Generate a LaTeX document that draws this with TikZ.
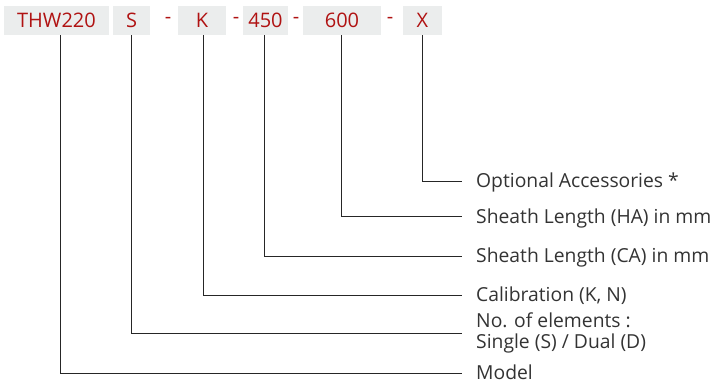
\documentclass[tikz,border=0pt]{standalone}
\usepackage{fontspec}
\setmainfont{Open Sans}
\definecolor{boxgray}{HTML}{EBEDED}
\definecolor{codered}{HTML}{B01212}
\definecolor{labelgray}{HTML}{333333}
\begin{document}
\begin{tikzpicture}[x=1pt,y=1pt,
  codebox/.style={rectangle,fill=boxgray,text=codered,minimum height=29pt,inner sep=0pt,font=\fontsize{20}{20}\selectfont},
  dashtxt/.style={text=codered,inner sep=0pt,font=\fontsize{20}{20}\selectfont},
  lbl/.style={anchor=west,text=labelgray,inner sep=0pt,font=\fontsize{19.3}{21}\selectfont},
  conn/.style={draw=black!85,line width=0.8pt}]
\useasboundingbox (0,0) rectangle (713,383);
\node[codebox,minimum width=105pt] (thw) at (56.5,362.5) {THW220};
\node[codebox,minimum width=37pt] (s) at (131.5,362.5) {S};
\node[dashtxt] (d1) at (168,362.5) {-};
\node[codebox,minimum width=48pt] (k) at (202,362.5) {K};
\node[dashtxt] (d2) at (236,362.5) {-};
\node[codebox,minimum width=45pt] (a) at (265.5,362.5) {450};
\node[dashtxt] (d3) at (296,362.5) {-};
\node[codebox,minimum width=78pt] (b) at (342,362.5) {600};
\node[dashtxt] (d4) at (390,362.5) {-};
\node[codebox,minimum width=39pt] (x) at (422.5,362.5) {X};

\coordinate (eX) at (462,202);
\coordinate (eB) at (462,167);
\coordinate (eA) at (462,127);
\coordinate (eK) at (462,88);
\coordinate (eS) at (462,50);
\coordinate (eT) at (462,10);

\node[lbl] (lX) at (476,200.5) {Optional Accessories *};
\node[lbl] (lB) at (476,165) {Sheath Length (HA) in mm};
\node[lbl] (lA) at (476,125.5) {Sheath Length (CA) in mm};
\node[lbl] (lK) at (476,87.5) {Calibration (K, N)};
\node[lbl,align=left] (lS) at (476,50.5) {No. of elements :\\Single (S) / Dual (D)};
\node[lbl,anchor=base west] (lT) at (476,3.5) {Model};

\draw[conn] (x.south) |- (eX);
\draw[conn] ([xshift=-1pt]b.south) |- (eB);
\draw[conn] ([xshift=-1.5pt]a.south) |- (eA);
\draw[conn] ([xshift=1pt]k.south) |- (eK);
\draw[conn] (s.south) |- (eS);
\draw[conn] ([xshift=3.5pt]thw.south) |- (eT);
\end{tikzpicture}
\end{document}
